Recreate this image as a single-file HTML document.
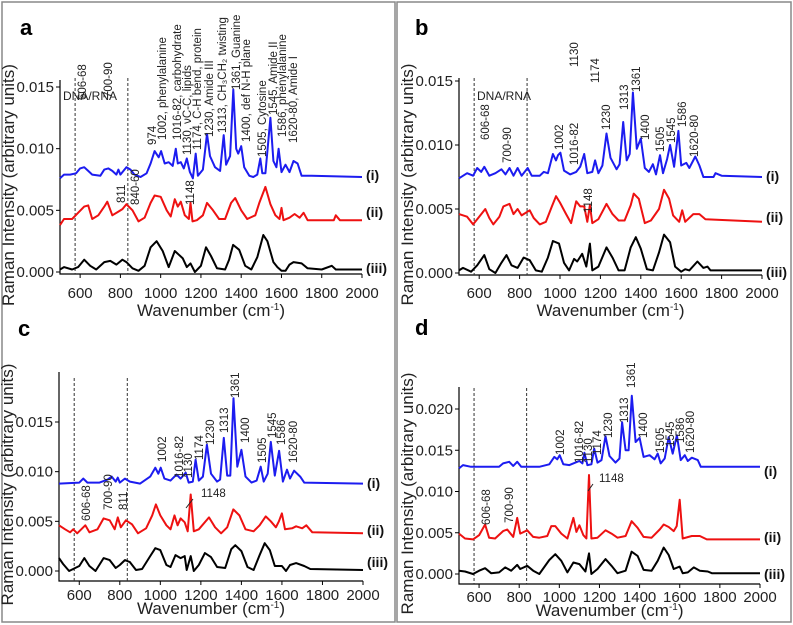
<!DOCTYPE html>
<html><head><meta charset="utf-8"><style>
body{margin:0;background:#fff}
svg{display:block;font-family:"Liberation Sans",sans-serif}
</style></head><body>
<svg id="fig" width="793" height="625" viewBox="0 0 793 625" xmlns="http://www.w3.org/2000/svg">
<rect x="2" y="2" width="393" height="620" fill="none" stroke="#888" stroke-width="1.5"/>
<rect x="397" y="2" width="394" height="620" fill="none" stroke="#888" stroke-width="1.5"/>
</svg>
<script>
const xTicks=[600,800,1000,1200,1400,1600,1800,2000];
const yTicksABC=[0,0.005,0.010,0.015];
const yTicksD=[0,0.005,0.010,0.015,0.020];
const traceLabels=['(i)','(ii)','(iii)'];
const dnaRegion=[575,837];
// spectra: [wavenumber, intensity x1e-3]
const a1=[[500,7.6],[520,7.9],[550,7.9],[580,8.0],[600,8.4],[620,8.5],[640,8.2],[660,7.9],[700,7.8],[720,8.3],[740,8.4],[760,8.2],[780,7.9],[790,8.3],[800,7.9],[830,8.5],[850,8.3],[870,7.9],[900,7.7],[930,8.0],[950,8.8],[970,9.8],[990,9.3],[1002,9.8],[1020,8.8],[1040,8.9],[1060,8.6],[1075,10.0],[1085,8.8],[1100,8.9],[1115,8.4],[1130,9.2],[1145,8.1],[1160,7.6],[1174,9.6],[1185,7.8],[1210,8.3],[1230,11.2],[1245,9.4],[1270,8.5],[1295,8.2],[1313,11.1],[1325,8.7],[1345,9.4],[1361,14.8],[1375,10.0],[1385,9.6],[1400,10.2],[1415,8.5],[1440,7.8],[1460,7.7],[1480,7.9],[1495,9.2],[1505,8.0],[1520,8.0],[1545,12.5],[1560,9.0],[1575,8.5],[1586,10.0],[1600,8.1],[1620,8.7],[1640,8.1],[1660,9.0],[1680,8.8],[1700,7.8],[1750,7.8],[2000,7.7]];
const a2=[[500,3.8],[520,4.3],[560,4.3],[590,4.8],[620,5.3],[640,5.4],[660,4.3],[690,4.6],[720,5.3],[735,5.7],[760,4.6],[790,4.9],[810,5.1],[830,5.5],[860,5.0],[890,4.1],[920,4.4],[950,5.6],[970,6.2],[1000,6.1],[1030,5.0],[1050,4.5],[1070,5.9],[1085,5.3],[1100,5.7],[1120,4.6],[1140,4.3],[1148,5.6],[1158,4.1],[1180,4.2],[1210,4.6],[1230,5.6],[1260,5.0],[1290,4.3],[1320,4.3],[1350,5.6],[1370,6.0],[1400,5.0],[1430,4.3],[1470,4.6],[1490,5.6],[1520,6.9],[1545,5.5],[1570,4.6],[1590,4.3],[1600,5.2],[1610,4.2],[1640,4.4],[1665,4.7],[1690,4.4],[1710,4.8],[1730,4.2],[1800,4.2],[1860,4.2],[1870,4.6],[1890,4.2],[2000,4.2]];
const a3=[[500,0.2],[520,0.4],[560,0.2],[590,0.4],[620,1.0],[650,0.5],[680,0.2],[720,0.8],[750,0.9],[780,0.6],[810,1.0],[830,0.8],[860,0.3],[890,0.1],[920,0.5],[950,2.0],[980,2.5],[1010,1.7],[1040,0.4],[1070,1.7],[1090,1.4],[1110,1.1],[1130,0.4],[1148,0.7],[1170,0.0],[1200,0.5],[1225,2.0],[1250,1.3],[1280,0.3],[1320,0.2],[1340,1.0],[1360,2.2],[1390,1.8],[1420,0.5],[1450,0.2],[1480,1.2],[1510,3.0],[1530,2.5],[1560,0.8],[1580,0.4],[1600,0.1],[1620,0.1],[1640,0.6],[1660,0.8],[1700,0.7],[1730,0.3],[1800,0.2],[1850,0.5],[1870,0.2],[2000,0.2]];
const b1=[[500,7.4],[540,7.8],[570,7.6],[590,8.2],[610,7.9],[625,8.3],[650,7.6],[680,7.8],[710,8.1],[730,7.7],[750,8.2],[770,7.6],[790,8.2],[810,7.6],[840,8.2],[860,7.6],[900,7.6],[920,7.9],[940,7.8],[965,9.3],[980,8.8],[990,9.2],[1002,9.4],[1020,8.0],[1050,7.7],[1080,7.9],[1100,8.3],[1120,9.3],[1135,7.8],[1160,7.9],[1174,8.8],[1190,7.8],[1210,8.4],[1230,10.9],[1250,9.0],[1280,8.1],[1295,8.5],[1313,11.8],[1330,8.8],[1345,9.3],[1361,14.1],[1380,9.7],[1400,10.5],[1420,8.2],[1440,7.9],[1460,8.5],[1475,7.7],[1495,9.2],[1510,7.8],[1530,8.9],[1545,10.0],[1565,8.3],[1586,11.1],[1600,8.4],[1625,8.6],[1640,8.2],[1670,9.1],[1690,8.4],[1710,7.5],[1760,7.5],[1770,7.8],[1800,7.6],[2000,7.5]];
const b2=[[500,4.6],[540,4.4],[570,3.8],[600,4.4],[630,5.0],[650,4.3],[670,3.8],[700,4.4],[720,5.2],[750,5.4],[770,4.6],[790,5.0],[810,4.5],[850,4.9],[870,4.3],[900,3.8],[930,4.0],[960,5.2],[980,6.0],[1000,5.5],[1030,4.6],[1055,3.9],[1080,5.6],[1100,5.2],[1120,5.2],[1135,4.0],[1148,5.3],[1160,3.9],[1190,4.2],[1230,5.4],[1260,4.6],[1290,4.1],[1320,4.1],[1350,5.3],[1365,6.2],[1390,5.8],[1420,3.9],[1450,4.1],[1490,5.0],[1515,6.5],[1540,5.8],[1560,4.5],[1590,4.0],[1605,4.9],[1620,4.0],[1660,4.6],[1690,4.6],[1720,4.2],[2000,4.0]];
const b3=[[500,0.2],[520,0.4],[560,0.1],[590,0.6],[625,1.4],[650,0.3],[680,0.0],[710,0.8],[735,1.4],[760,0.6],[790,0.4],[820,1.2],[850,1.0],[880,0.2],[910,0.1],[940,1.2],[965,2.5],[995,2.3],[1020,0.8],[1045,0.2],[1070,1.1],[1085,0.9],[1110,1.5],[1130,0.5],[1148,2.3],[1160,0.2],[1190,0.5],[1230,2.0],[1260,1.2],[1290,0.2],[1320,0.2],[1350,2.0],[1375,2.8],[1400,1.9],[1430,0.3],[1460,0.2],[1490,1.6],[1515,3.0],[1545,2.4],[1570,0.5],[1600,0.1],[1620,0.3],[1640,0.2],[1680,0.9],[1710,0.4],[1730,0.5],[1745,0.2],[2000,0.2]];
const c1=[[500,8.8],[600,8.9],[620,9.3],[640,8.9],[700,8.9],[740,9.2],[760,9.5],[780,9.0],[790,9.4],[800,8.9],[825,9.3],[850,9.0],[900,8.8],[950,9.5],[975,10.4],[990,9.8],[1002,10.4],[1020,9.3],[1050,9.1],[1080,9.7],[1100,9.3],[1125,9.9],[1140,8.9],[1160,9.0],[1174,11.2],[1190,9.1],[1210,9.5],[1230,12.7],[1250,9.8],[1280,9.0],[1295,9.2],[1313,13.4],[1330,9.6],[1345,9.6],[1361,17.4],[1380,10.5],[1400,12.2],[1420,9.5],[1450,8.9],[1475,9.1],[1495,10.5],[1510,9.0],[1530,9.8],[1545,13.0],[1565,9.6],[1586,12.1],[1605,9.0],[1625,10.2],[1640,9.3],[1660,10.1],[1690,9.5],[1710,8.9],[2000,8.8]];
const c2=[[500,4.6],[530,4.2],[555,3.9],[570,4.2],[590,3.8],[630,4.6],[650,3.9],[690,4.2],[720,5.3],[750,5.1],[775,4.2],[790,5.4],[805,4.4],[830,5.1],[860,4.7],[890,3.8],[930,4.3],[960,5.6],[978,6.7],[1000,5.6],[1030,4.6],[1050,4.2],[1070,5.6],[1085,4.6],[1100,5.3],[1120,4.9],[1135,4.0],[1150,7.7],[1165,4.0],[1190,4.2],[1240,5.4],[1270,4.4],[1300,3.8],[1330,4.4],[1360,6.2],[1390,5.6],[1420,4.2],[1460,4.0],[1490,4.6],[1520,5.5],[1545,5.0],[1570,4.4],[1585,5.0],[1600,5.8],[1615,4.2],[1650,4.3],[1670,4.5],[1700,4.3],[1720,4.6],[1750,3.9],[2000,3.8]];
const c3=[[500,1.3],[520,0.7],[550,0.0],[580,0.3],[600,0.5],[625,1.3],[650,0.5],[680,0.0],[720,1.3],[750,1.1],[780,0.3],[800,0.6],[825,1.1],[850,0.9],[880,0.1],[910,0.2],[950,1.5],[975,2.3],[1000,2.1],[1030,0.6],[1050,0.4],[1075,1.6],[1100,1.3],[1120,1.5],[1130,0.1],[1150,1.5],[1165,0.0],[1190,0.6],[1220,1.8],[1250,1.4],[1280,0.4],[1320,0.3],[1350,2.2],[1370,2.6],[1400,2.0],[1430,0.4],[1460,0.1],[1490,1.6],[1515,2.8],[1540,2.1],[1565,0.5],[1600,0.5],[1620,0.0],[1640,0.6],[1670,0.8],[1710,0.5],[1740,0.2],[2000,0.1]];
const d1=[[500,12.8],[520,13.2],[560,13.0],[700,13.0],[720,13.4],[750,13.6],[770,13.1],[790,13.6],[810,13.0],[900,13.0],[950,13.3],[975,14.2],[990,13.9],[1002,14.4],[1020,13.3],[1050,13.2],[1080,13.5],[1100,13.7],[1115,13.4],[1125,14.7],[1140,13.2],[1160,13.3],[1174,15.2],[1190,13.5],[1210,13.8],[1230,16.7],[1250,14.3],[1280,13.5],[1300,14.0],[1313,18.4],[1330,15.0],[1345,15.0],[1361,21.6],[1380,16.0],[1400,16.5],[1420,14.2],[1450,14.4],[1475,13.9],[1490,14.6],[1505,13.4],[1525,14.0],[1545,16.6],[1565,14.6],[1586,16.8],[1605,13.8],[1625,14.4],[1640,13.7],[1660,14.1],[1690,13.8],[1705,13.0],[2000,13.0]];
const d2=[[500,4.9],[530,4.3],[570,4.2],[600,4.7],[630,6.0],[650,4.4],[680,4.3],[720,5.2],[740,5.4],[770,4.5],[790,6.8],[805,4.9],[840,5.3],[870,4.5],[900,4.4],[940,4.6],[960,5.8],[980,5.8],[1010,4.9],[1040,4.3],[1070,6.8],[1085,5.1],[1100,5.9],[1120,4.7],[1135,4.3],[1148,12.0],[1160,4.3],[1190,4.4],[1230,5.3],[1260,4.9],[1290,4.4],[1330,4.6],[1360,6.4],[1390,5.6],[1420,4.5],[1460,4.4],[1500,5.4],[1520,6.0],[1545,5.7],[1570,5.2],[1585,5.8],[1600,9.0],[1615,4.3],[1660,4.6],[1700,4.6],[1735,4.2],[2000,4.2]];
const d3=[[500,0.4],[530,0.3],[570,0.0],[600,0.4],[630,0.7],[660,0.1],[700,0.2],[730,0.8],[760,0.4],[790,1.1],[805,0.6],[840,1.0],[870,0.4],[900,0.0],[950,1.7],[980,2.4],[1010,1.6],[1040,0.2],[1070,1.4],[1100,1.2],[1130,0.3],[1148,2.5],[1160,0.0],[1190,0.6],[1230,1.8],[1260,1.0],[1290,0.1],[1330,0.4],[1360,2.7],[1390,2.2],[1420,0.5],[1460,0.4],[1490,1.6],[1520,3.2],[1545,2.3],[1570,0.6],[1600,0.9],[1615,0.1],[1640,0.2],[1670,0.8],[1700,0.4],[1740,0.3],[1760,0.1],[2000,0.1]];
// annotation labels: [text, x px, bottom y px]
const annA=[['606-68',82,100],['700-90',108,98],['974',152,145],['1002, phenylalanine',162,140],['1016-82, carbohydrate',177,140],['1130, \u03BDC-C, lipids',187,155],['1174, C-H bend, protein',197,150],['1230, Amide III',209,137],['1313, CH\u2083CH\u2082 twisting',222,133],['1361, Guanine',236,90],['1400, def N-H plane',246,142],['1505, Cytosine',262,157],['1545, Amide II',273,115],['1586, phenylalanine',282,137],['1620-80, Amide I',293,143],['811',121,203],['840-60',135,205],['1148',190,205]];
const annB=[['606-68',485,140],['700-90',507,163],['1002',559,150],['1016-82',574,165],['1130',574,67],['1174',595,83],['1230',606,130],['1313',624,110],['1361',636,92],['1400',645,140],['1505',660,152],['1545',671,143],['1586',682,127],['1620-80',694,157],['1148',588,213]];
const annC=[['606-68',86,521],['700-90',108,510],['811',123,510],['1002',162,462],['1016-82',179,478],['1130',188,478],['1174',199,460],['1230',210,445],['1313',224,433],['1361',235,398],['1400',245,443],['1505',262,463],['1545',272,438],['1586',281,445],['1620-80',293,463]];
const annD=[['606-68',486,525],['700-90',509,523],['1002',560,455],['1016-82',579,463],['1130',588,463],['1174',597,455],['1230',608,438],['1313',624,423],['1361',631,388],['1400',643,438],['1505',660,453],['1545',670,447],['1586',680,443],['1620-80',690,453]];

const NS='http://www.w3.org/2000/svg';
const svg=document.getElementById('fig');
function mk(tag,attrs,parent,txt){const e=document.createElementNS(NS,tag);for(const k in attrs)e.setAttribute(k,attrs[k]);if(txt!==undefined)e.textContent=txt;(parent||svg).appendChild(e);return e;}

const panels=[
 {id:'a',x0:60,x1:362,y0:272,yTop:80,yMax:0.015,yMaxPx:87,axisY:274,ticks:yTicksABC,traces:[a1,a2,a3],lab:[175,212,268],ann:annA,letter:[20,35],dna:[100,63],tickY:298,titleY:316,dashTop:78},
 {id:'b',x0:459,x1:762,y0:273,yTop:78,yMax:0.015,yMaxPx:81,axisY:275,ticks:yTicksABC,traces:[b1,b2,b3],lab:[176,217,272],ann:annB,letter:[415,35],dna:[100,477],tickY:298,titleY:316,dashTop:78},
 {id:'c',x0:59,x1:363,y0:571,yTop:372,yMax:0.015,yMaxPx:422,axisY:581,ticks:yTicksABC,traces:[c1,c2,c3],lab:[483,530,562],ann:annC,letter:[18,336],dna:null,tickY:600,titleY:614,dashTop:378},
 {id:'d',x0:459,x1:760,y0:574,yTop:387,yMax:0.020,yMaxPx:409,axisY:584,ticks:yTicksD,traces:[d1,d2,d3],lab:[471,537,574],ann:annD,letter:[415,335],dna:null,tickY:602,titleY:616,dashTop:388}
];
const colors=['#1c1cf0','#ee1111','#000'];
const seriesNames=['trace-i','trace-ii','trace-iii'];

panels.forEach(p=>{
  const g=mk('g',{});
  
  
  const X=w=>p.x0+(w-500)/1500*(p.x1-p.x0);
  const Y=v=>p.y0+(v/p.yMax)*(p.yMaxPx-p.y0);
  const ax=mk('path',{d:`M${p.x0},${p.yTop}V${p.axisY}H${p.x1}`,fill:'none',stroke:'#000','stroke-width':1.2},g);
  
  
  xTicks.forEach(t=>{
    mk('line',{x1:X(t),x2:X(t),y1:p.axisY,y2:p.axisY+4,stroke:'#000','stroke-width':1},g);
    const tl=mk('text',{x:X(t),y:p.tickY,'font-size':15,'text-anchor':'middle',fill:'#222'},g,String(t));
    
    
  });
  p.ticks.forEach(t=>{
    mk('line',{x1:p.x0-4,x2:p.x0,y1:Y(t),y2:Y(t),stroke:'#000','stroke-width':1},g);
    const tl=mk('text',{x:p.x0-6,y:Y(t)+5,'font-size':15,'text-anchor':'end',fill:'#222'},g,t.toFixed(3));
    
    
  });
  const xt=mk('text',{x:(p.x0+p.x1)/2,y:p.titleY,'font-size':17,'text-anchor':'middle',fill:'#222'},g,'Wavenumber (cm');
  mk('tspan',{'font-size':10,dy:-6},xt,'-1');
  mk('tspan',{dy:6},xt,')');
  
  
  const yt=mk('text',{x:0,y:0,'font-size':17,'text-anchor':'middle',fill:'#222',transform:`translate(${p.x0-46},${(p.yTop+p.axisY)/2+8}) rotate(-90)`},g,'Raman Intensity (arbitrary units)');
  
  
  dnaRegion.forEach(w=>{
    const dl=mk('line',{x1:X(w),x2:X(w),y1:p.dashTop,y2:p.axisY,stroke:'#333','stroke-width':1,'stroke-dasharray':'3,2'},g);
    
    
  });
  if(p.dna){const dt=mk('text',{x:p.dna[1],y:p.dna[0],'font-size':12,fill:'#222'},g,'DNA/RNA');
    
    }
  p.traces.forEach((tr,i)=>{
    const d=tr.map((pt,j)=>(j?'L':'M')+X(pt[0]).toFixed(1)+','+Y(pt[1]/1000).toFixed(1)).join('');
    const pl=mk('path',{d:d,fill:'none',stroke:colors[i],'stroke-width':2,'stroke-linejoin':'round'},g);
    
    
    const lt=mk('text',{x:p.x1+4,y:p.lab[i]+5,'font-size':14,'font-weight':'bold',fill:'#111'},g,traceLabels[i]);
    
    
  });
  p.ann.forEach(a=>{
    const at=mk('text',{x:0,y:0,'font-size':11.5,fill:'#222',transform:`translate(${a[1]+4},${a[2]}) rotate(-90)`},g,a[0]);
    
    
  });
  const lt=mk('text',{x:p.letter[0],y:p.letter[1],'font-size':22,'font-weight':'bold',fill:'#000'},g,p.id);
  
  
});
[[201,497,193,499,186,508],[599,482,593,484,588,491]].forEach(c=>{
  const t=mk('text',{x:c[0],y:c[1],'font-size':11.5,fill:'#222'},svg,'1148');
  
  
  mk('line',{x1:c[2],y1:c[3],x2:c[4],y2:c[5],stroke:'#222','stroke-width':1});
});
</script>
</body></html>
